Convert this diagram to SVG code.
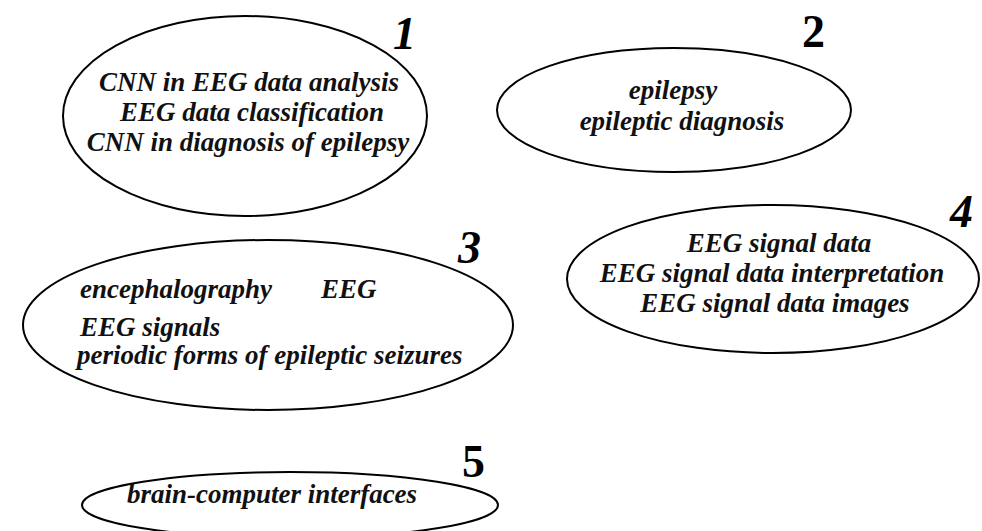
<svg xmlns="http://www.w3.org/2000/svg" width="982" height="531" viewBox="0 0 982 531">
<style>
  .bg { fill: #ffffff; }
  .shape { fill: none; stroke: #000000; stroke-width: 2; }
  .t { font-family: "Liberation Serif", "Times New Roman", serif; font-weight: bold; font-style: italic; font-size: 27px; fill: #111111; }
  .c { text-anchor: middle; }
  .num { font-family: "Liberation Serif", "Times New Roman", serif; font-weight: bold; font-size: 46px; fill: #000000; }
  .it { font-style: italic; }
</style>
<rect class="bg" x="0" y="0" width="982" height="531"/>
<g id="connectors"></g>
<g id="node1">
  <ellipse class="shape" cx="245" cy="116" rx="182" ry="100"/>
  <text class="t c" x="249" y="91">CNN in EEG data analysis</text>
  <text class="t c" x="252" y="121">EEG data classification</text>
  <text class="t c" x="248" y="151">CNN in diagnosis of epilepsy</text>
  <text class="num it" x="393" y="49">1</text>
</g>
<g id="node2">
  <ellipse class="shape" cx="674" cy="110" rx="177" ry="62"/>
  <text class="t c" x="673" y="99">epilepsy</text>
  <text class="t c" x="682" y="130">epileptic diagnosis</text>
  <text class="num" x="802" y="47">2</text>
</g>
<g id="node3">
  <ellipse class="shape" cx="268" cy="325" rx="245" ry="85"/>
  <text class="t" x="80" y="298">encephalography</text>
  <text class="t" x="321" y="298">EEG</text>
  <text class="t" x="80" y="336">EEG signals</text>
  <text class="t" x="77" y="364">periodic forms of epileptic seizures</text>
  <text class="num it" x="458" y="263">3</text>
</g>
<g id="node4">
  <ellipse class="shape" cx="773" cy="279" rx="206" ry="74"/>
  <text class="t c" x="779" y="252">EEG signal data</text>
  <text class="t c" x="772" y="282">EEG signal data interpretation</text>
  <text class="t c" x="775" y="312">EEG signal data images</text>
  <text class="num it" x="950" y="227">4</text>
</g>
<g id="node5">
  <ellipse class="shape" cx="290" cy="505" rx="208" ry="33"/>
  <text class="t c" x="272" y="503">brain-computer interfaces</text>
  <text class="num" x="462" y="477">5</text>
</g>
</svg>
